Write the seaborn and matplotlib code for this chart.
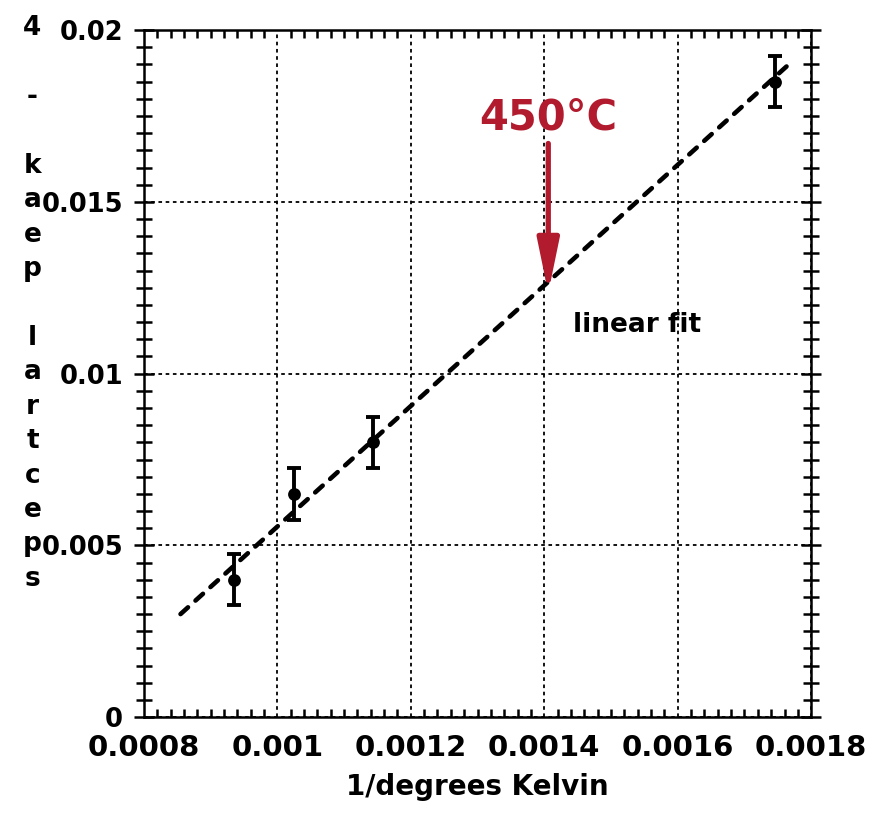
import numpy as np
import pandas as pd
import matplotlib
matplotlib.use("Agg")
import matplotlib.pyplot as plt
from matplotlib.ticker import MultipleLocator
import seaborn as sns

# ---- data ----
inv_kelvin = [0.000935, 0.001025, 0.001143, 0.001745]
peak4 = [0.0040, 0.0065, 0.0080, 0.0185]
peak4_err = [0.00075, 0.00075, 0.00075, 0.00075]
fit_x = [0.000855, 0.001772]
fit_y = [0.0030, 0.0191]
arrow_x = 0.001406
arrow_tip_y = 0.01235
arrow_tail_y = 0.0167
arrow_label = "450°C"
fit_label = "linear fit"
fit_label_pos = (0.001443, 0.0112)
x_ticks = [0.0008, 0.001, 0.0012, 0.0014, 0.0016, 0.0018]
x_tick_labels = ["0.0008", "0.001", "0.0012", "0.0014", "0.0016", "0.0018"]
y_ticks = [0, 0.005, 0.01, 0.015, 0.02]
y_tick_labels = ["0", "0.005", "0.01", "0.015", "0.02"]
x_label = "1/degrees Kelvin"
y_label = "spectral peak - 4"

points = pd.DataFrame({"x": inv_kelvin, "y": peak4, "err": peak4_err})
fit = pd.DataFrame({"x": fit_x, "y": fit_y})

sns.set_style("ticks")
plt.rcParams["font.family"] = ["DejaVu Sans"]
plt.rcParams["font.weight"] = "bold"
for k in ["text.color", "axes.labelcolor", "xtick.color", "ytick.color",
          "axes.edgecolor"]:
    plt.rcParams[k] = "black"

fig = plt.figure(figsize=(8.77, 8.14), dpi=100)
ax = fig.add_axes([0.164, 0.119, 0.761, 0.844])

red = "#B21A2E"

# fit line
sns.lineplot(data=fit, x="x", y="y", ax=ax, color="black", lw=3.3,
             linestyle=(0, (2.2, 2.2)), dash_capstyle="round", zorder=3)
# error bars
ax.errorbar(points["x"], points["y"], yerr=points["err"], fmt="none",
            ecolor="black", elinewidth=2.8, capsize=5, capthick=2.8, zorder=4)
# points
sns.scatterplot(data=points, x="x", y="y", ax=ax, color="black", s=85,
                edgecolor="black", linewidth=0, zorder=5)

ax.set_xlim(0.0008, 0.0018)
ax.set_ylim(0, 0.02)
ax.set_xticks(x_ticks)
ax.set_xticklabels(x_tick_labels)
ax.set_yticks(y_ticks)
ax.set_yticklabels(y_tick_labels)
ax.xaxis.set_minor_locator(MultipleLocator(0.00002))
ax.yaxis.set_minor_locator(MultipleLocator(0.0005))

ax.grid(True, which="major", color="black", linestyle=(0, (2, 2)), lw=1.3)
for s in ax.spines.values():
    s.set_linewidth(1.8)
    s.set_visible(True)
    s.set_color("black")

ax.tick_params(axis="y", which="both", left=True, right=True, direction="inout",
               length=11, width=1.8, labelsize=18.5, pad=8, colors="black")
ax.tick_params(axis="y", which="major", length=14)
ax.tick_params(axis="x", which="both", bottom=True, top=True, direction="in",
               length=6, width=1.8, labelsize=21, pad=12, colors="black")
ax.tick_params(axis="x", which="major", length=0)
for lab in ax.get_xticklabels() + ax.get_yticklabels():
    lab.set_fontweight("bold")

ax.set_xlabel(x_label, fontsize=20, fontweight="bold", labelpad=8,
              color="black")
ax.set_ylabel("")

# stacked y-label: characters upright, read bottom to top
stacked = "\n".join(list(y_label[::-1]))
fig.text(0.037, 0.981, stacked, fontsize=19, fontweight="bold", ha="center",
         va="top", linespacing=1.42, color="black")

# arrow annotation
ax.annotate("", xy=(arrow_x, arrow_tip_y), xytext=(arrow_x, arrow_tail_y),
            arrowprops=dict(arrowstyle="-|>,head_length=1.6,head_width=0.33",
                            color=red, lw=3.8, mutation_scale=20,
                            shrinkA=0, shrinkB=0), zorder=6)
ax.text(arrow_x, 0.01685, arrow_label, color=red, fontsize=30,
        fontweight="bold", ha="center", va="bottom")
ax.text(fit_label_pos[0], fit_label_pos[1], fit_label, fontsize=19,
        fontweight="bold", ha="left", va="baseline", color="black")

fig.savefig("out.png", dpi=100)
